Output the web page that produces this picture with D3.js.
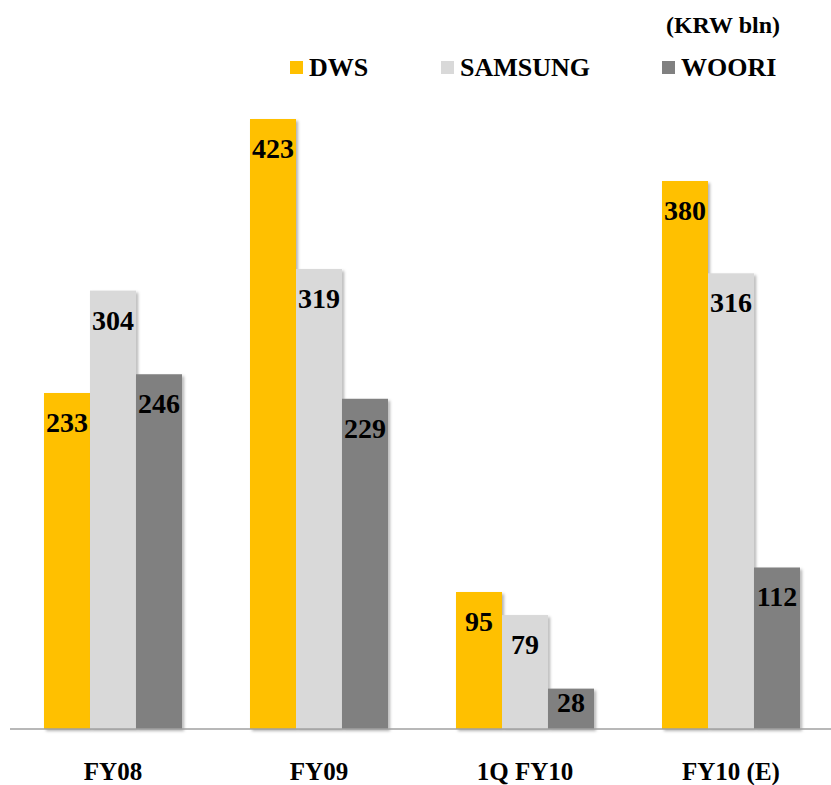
<!DOCTYPE html>
<html>
<head>
<meta charset="utf-8">
<script src="https://cdn.jsdelivr.net/npm/d3@7"></script>
<style>
  body { margin: 0; background: #fff; }
  text { font-family: "Liberation Serif", "Times New Roman", serif; font-weight: bold; fill: #000; }
</style>
</head>
<body>
<div id="chart"></div>
<script>
const categories = ['FY08', 'FY09', '1Q FY10', 'FY10 (E)'];
const seriesNames = ['DWS', 'SAMSUNG', 'WOORI'];
const dws = [233, 423, 95, 380];
const samsung = [304, 319, 79, 316];
const woori = [246, 229, 28, 112];
const unitLabel = '(KRW bln)';

const colors = { DWS: '#FFC000', SAMSUNG: '#D9D9D9', WOORI: '#808080' };
const seriesValues = { DWS: dws, SAMSUNG: samsung, WOORI: woori };

const width = 831;
const height = 785;
const baseY = 729;

const svg = d3.select('#chart')
    .append('svg')
    .attr('width', width)
    .attr('height', height);

const defs = svg.append('defs');
const shadow = defs.append('filter')
    .attr('id', 'shadow')
    .attr('x', '-20%').attr('y', '-20%')
    .attr('width', '140%').attr('height', '140%');
shadow.append('feDropShadow')
    .attr('dx', 2).attr('dy', 2)
    .attr('stdDeviation', 1.5)
    .attr('flood-color', '#000')
    .attr('flood-opacity', 0.3);

const x0 = d3.scaleBand()
    .domain(categories)
    .range([10, 834])
    .paddingInner(0.33)
    .paddingOuter(0.165);

const x1 = d3.scaleBand()
    .domain(seriesNames)
    .range([0, x0.bandwidth()]);

// 423 sits at y=119
const y = d3.scaleLinear()
    .domain([0, 450])
    .range([baseY, baseY - 450 * (baseY - 119) / 423]);

const groups = svg.selectAll('.group')
    .data(categories)
    .enter()
    .append('g')
    .classed('group', true)
    .attr('transform', d => `translate(${x0(d)},0)`);

const cells = groups.selectAll('.cell')
    .data((c, i) => seriesNames.map(s => ({ series: s, value: seriesValues[s][i] })))
    .enter();

cells.append('rect')
    .classed('bar', true)
    .attr('x', d => x1(d.series))
    .attr('y', d => y(d.value))
    .attr('width', x1.bandwidth())
    .attr('height', d => baseY - y(d.value))
    .attr('fill', d => colors[d.series])
    .attr('filter', 'url(#shadow)');

cells.append('text')
    .attr('x', d => x1(d.series) + x1.bandwidth() / 2)
    .attr('y', d => Math.min(y(d.value) + 39, baseY - 17))
    .attr('text-anchor', 'middle')
    .style('font-size', '28px')
    .text(d => d.value);

// baseline axis
const xAxis = d3.axisBottom(x0).tickSize(0).tickPadding(0).tickFormat('');
const axisG = svg.append('g')
    .attr('transform', `translate(0,${baseY})`)
    .call(xAxis);
axisG.select('.domain')
    .attr('d', `M10,0H${width}`)
    .attr('stroke', '#a0a0a0')
    .attr('stroke-width', 1.5);

svg.selectAll('.cat')
    .data(categories)
    .enter()
    .append('text')
    .classed('cat', true)
    .attr('x', d => x0(d) + x0.bandwidth() / 2)
    .attr('y', 780)
    .attr('text-anchor', 'middle')
    .style('font-size', '25px')
    .text(d => d);

// legend
const legendX = [290, 441, 662];
const legend = svg.selectAll('.legend')
    .data(seriesNames)
    .enter()
    .append('g')
    .classed('legend', true)
    .attr('transform', (d, i) => `translate(${legendX[i]},61)`);
legend.append('rect')
    .attr('width', 13)
    .attr('height', 13)
    .attr('fill', d => colors[d]);
legend.append('text')
    .attr('x', 19)
    .attr('y', 15)
    .style('font-size', '26px')
    .text(d => d);

svg.append('text')
    .attr('x', 780)
    .attr('y', 33)
    .attr('text-anchor', 'end')
    .style('font-size', '24px')
    .text(unitLabel);
</script>
</body>
</html>
